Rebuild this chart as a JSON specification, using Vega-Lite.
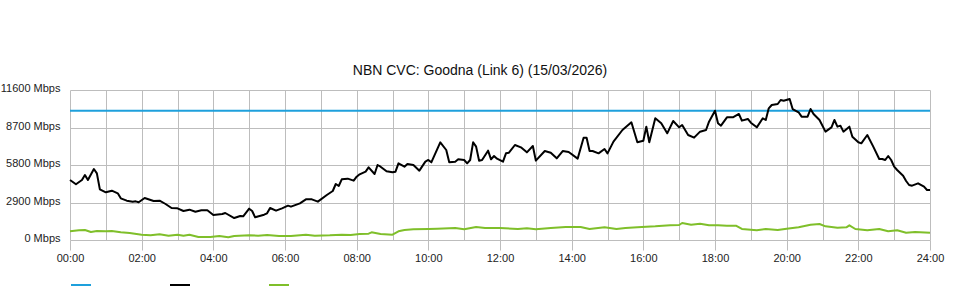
{
  "$schema": "https://vega.github.io/schema/vega-lite/v6.json",
  "width": 860,
  "height": 150,
  "autosize": {"type": "none"},
  "padding": {"left": 70, "top": 90, "right": 30, "bottom": 60},
  "background": "white",
  "title": {"text": "NBN CVC: Goodna (Link 6) (15/03/2026)", "font": "Liberation Sans", "fontSize": 14, "fontWeight": "normal", "color": "#111", "anchor": "middle", "dx": -20, "dy": 21, "offset": 15, "baseline": "alphabetic"},
  "data": {"values": [
    {"series":"Capacity","minute":0,"mbps":10000},{"series":"Capacity","minute":1440,"mbps":10000},
    {"series":"Inbound","minute":0,"mbps":4640},{"series":"Inbound","minute":10,"mbps":4307},{"series":"Inbound","minute":20,"mbps":4640},{"series":"Inbound","minute":25,"mbps":5027},{"series":"Inbound","minute":30,"mbps":4640},{"series":"Inbound","minute":40,"mbps":5490},{"series":"Inbound","minute":45,"mbps":5155},{"series":"Inbound","minute":50,"mbps":3920},{"series":"Inbound","minute":60,"mbps":3688},{"series":"Inbound","minute":70,"mbps":3815},{"series":"Inbound","minute":80,"mbps":3610},{"series":"Inbound","minute":85,"mbps":3224},{"series":"Inbound","minute":95,"mbps":3040},{"series":"Inbound","minute":105,"mbps":2963},{"series":"Inbound","minute":110,"mbps":2990},{"series":"Inbound","minute":115,"mbps":2915},{"series":"Inbound","minute":125,"mbps":3248},{"series":"Inbound","minute":135,"mbps":3093},{"series":"Inbound","minute":140,"mbps":3016},{"series":"Inbound","minute":150,"mbps":3040},{"series":"Inbound","minute":160,"mbps":2784},{"series":"Inbound","minute":170,"mbps":2475},{"series":"Inbound","minute":180,"mbps":2450},{"series":"Inbound","minute":190,"mbps":2243},{"series":"Inbound","minute":200,"mbps":2346},{"series":"Inbound","minute":210,"mbps":2190},{"series":"Inbound","minute":220,"mbps":2294},{"series":"Inbound","minute":230,"mbps":2294},{"series":"Inbound","minute":240,"mbps":1933},{"series":"Inbound","minute":255,"mbps":2010},{"series":"Inbound","minute":260,"mbps":2088},{"series":"Inbound","minute":275,"mbps":1701},{"series":"Inbound","minute":285,"mbps":1856},{"series":"Inbound","minute":290,"mbps":1830},{"series":"Inbound","minute":300,"mbps":2423},{"series":"Inbound","minute":305,"mbps":2243},{"series":"Inbound","minute":310,"mbps":1753},{"series":"Inbound","minute":325,"mbps":1959},{"series":"Inbound","minute":330,"mbps":2062},{"series":"Inbound","minute":335,"mbps":2475},{"series":"Inbound","minute":345,"mbps":2268},{"series":"Inbound","minute":355,"mbps":2450},{"series":"Inbound","minute":365,"mbps":2655},{"series":"Inbound","minute":370,"mbps":2578},{"series":"Inbound","minute":385,"mbps":2836},{"series":"Inbound","minute":395,"mbps":3145},{"series":"Inbound","minute":405,"mbps":3145},{"series":"Inbound","minute":415,"mbps":2965},{"series":"Inbound","minute":430,"mbps":3480},{"series":"Inbound","minute":440,"mbps":3790},{"series":"Inbound","minute":445,"mbps":4331},{"series":"Inbound","minute":450,"mbps":4176},{"series":"Inbound","minute":455,"mbps":4693},{"series":"Inbound","minute":465,"mbps":4744},{"series":"Inbound","minute":475,"mbps":4589},{"series":"Inbound","minute":480,"mbps":4898},{"series":"Inbound","minute":485,"mbps":5078},{"series":"Inbound","minute":495,"mbps":5284},{"series":"Inbound","minute":500,"mbps":5619},{"series":"Inbound","minute":510,"mbps":5104},{"series":"Inbound","minute":515,"mbps":5800},{"series":"Inbound","minute":520,"mbps":5671},{"series":"Inbound","minute":530,"mbps":5310},{"series":"Inbound","minute":540,"mbps":5232},{"series":"Inbound","minute":545,"mbps":5284},{"series":"Inbound","minute":550,"mbps":5929},{"series":"Inbound","minute":560,"mbps":5671},{"series":"Inbound","minute":565,"mbps":5877},{"series":"Inbound","minute":575,"mbps":5800},{"series":"Inbound","minute":585,"mbps":5362},{"series":"Inbound","minute":595,"mbps":6057},{"series":"Inbound","minute":600,"mbps":6187},{"series":"Inbound","minute":605,"mbps":6006},{"series":"Inbound","minute":620,"mbps":7555},{"series":"Inbound","minute":630,"mbps":6960},{"series":"Inbound","minute":635,"mbps":6006},{"series":"Inbound","minute":645,"mbps":6057},{"series":"Inbound","minute":650,"mbps":6238},{"series":"Inbound","minute":660,"mbps":6187},{"series":"Inbound","minute":665,"mbps":5929},{"series":"Inbound","minute":670,"mbps":6187},{"series":"Inbound","minute":675,"mbps":7555},{"series":"Inbound","minute":680,"mbps":7218},{"series":"Inbound","minute":685,"mbps":6135},{"series":"Inbound","minute":690,"mbps":6187},{"series":"Inbound","minute":700,"mbps":6908},{"series":"Inbound","minute":705,"mbps":6238},{"series":"Inbound","minute":710,"mbps":6496},{"series":"Inbound","minute":715,"mbps":6290},{"series":"Inbound","minute":725,"mbps":6057},{"series":"Inbound","minute":730,"mbps":6702},{"series":"Inbound","minute":735,"mbps":6753},{"series":"Inbound","minute":745,"mbps":7347},{"series":"Inbound","minute":755,"mbps":7166},{"series":"Inbound","minute":765,"mbps":6780},{"series":"Inbound","minute":775,"mbps":7269},{"series":"Inbound","minute":780,"mbps":6135},{"series":"Inbound","minute":795,"mbps":6882},{"series":"Inbound","minute":805,"mbps":6753},{"series":"Inbound","minute":815,"mbps":6315},{"series":"Inbound","minute":825,"mbps":6882},{"series":"Inbound","minute":835,"mbps":6805},{"series":"Inbound","minute":850,"mbps":6290},{"series":"Inbound","minute":860,"mbps":7914},{"series":"Inbound","minute":865,"mbps":7914},{"series":"Inbound","minute":870,"mbps":6882},{"series":"Inbound","minute":875,"mbps":6882},{"series":"Inbound","minute":885,"mbps":6702},{"series":"Inbound","minute":895,"mbps":7037},{"series":"Inbound","minute":900,"mbps":6702},{"series":"Inbound","minute":910,"mbps":7605},{"series":"Inbound","minute":925,"mbps":8507},{"series":"Inbound","minute":940,"mbps":9100},{"series":"Inbound","minute":950,"mbps":7555},{"series":"Inbound","minute":960,"mbps":7681},{"series":"Inbound","minute":965,"mbps":8764},{"series":"Inbound","minute":970,"mbps":7555},{"series":"Inbound","minute":980,"mbps":9410},{"series":"Inbound","minute":990,"mbps":9023},{"series":"Inbound","minute":1000,"mbps":8250},{"series":"Inbound","minute":1010,"mbps":9203},{"series":"Inbound","minute":1020,"mbps":8713},{"series":"Inbound","minute":1025,"mbps":8893},{"series":"Inbound","minute":1035,"mbps":8120},{"series":"Inbound","minute":1045,"mbps":7914},{"series":"Inbound","minute":1055,"mbps":8378},{"series":"Inbound","minute":1065,"mbps":8507},{"series":"Inbound","minute":1070,"mbps":9152},{"series":"Inbound","minute":1080,"mbps":10000},{"series":"Inbound","minute":1085,"mbps":9023},{"series":"Inbound","minute":1090,"mbps":8842},{"series":"Inbound","minute":1100,"mbps":9487},{"series":"Inbound","minute":1110,"mbps":9487},{"series":"Inbound","minute":1120,"mbps":9745},{"series":"Inbound","minute":1125,"mbps":9229},{"series":"Inbound","minute":1135,"mbps":9358},{"series":"Inbound","minute":1140,"mbps":9074},{"series":"Inbound","minute":1150,"mbps":8713},{"series":"Inbound","minute":1160,"mbps":9410},{"series":"Inbound","minute":1165,"mbps":9280},{"series":"Inbound","minute":1170,"mbps":10184},{"series":"Inbound","minute":1175,"mbps":10440},{"series":"Inbound","minute":1185,"mbps":10517},{"series":"Inbound","minute":1190,"mbps":10827},{"series":"Inbound","minute":1195,"mbps":10775},{"series":"Inbound","minute":1205,"mbps":10905},{"series":"Inbound","minute":1210,"mbps":10130},{"series":"Inbound","minute":1220,"mbps":9875},{"series":"Inbound","minute":1225,"mbps":9539},{"series":"Inbound","minute":1235,"mbps":9539},{"series":"Inbound","minute":1240,"mbps":10130},{"series":"Inbound","minute":1245,"mbps":9745},{"series":"Inbound","minute":1255,"mbps":9280},{"series":"Inbound","minute":1265,"mbps":8378},{"series":"Inbound","minute":1275,"mbps":8713},{"series":"Inbound","minute":1280,"mbps":9280},{"series":"Inbound","minute":1285,"mbps":8764},{"series":"Inbound","minute":1290,"mbps":8842},{"series":"Inbound","minute":1295,"mbps":8378},{"series":"Inbound","minute":1305,"mbps":8764},{"series":"Inbound","minute":1310,"mbps":7991},{"series":"Inbound","minute":1320,"mbps":7555},{"series":"Inbound","minute":1325,"mbps":7476},{"series":"Inbound","minute":1335,"mbps":8120},{"series":"Inbound","minute":1345,"mbps":7218},{"series":"Inbound","minute":1355,"mbps":6264},{"series":"Inbound","minute":1360,"mbps":6264},{"series":"Inbound","minute":1365,"mbps":6187},{"series":"Inbound","minute":1370,"mbps":6496},{"series":"Inbound","minute":1375,"mbps":6187},{"series":"Inbound","minute":1380,"mbps":5671},{"series":"Inbound","minute":1385,"mbps":5413},{"series":"Inbound","minute":1395,"mbps":4973},{"series":"Inbound","minute":1400,"mbps":4563},{"series":"Inbound","minute":1405,"mbps":4253},{"series":"Inbound","minute":1410,"mbps":4202},{"series":"Inbound","minute":1420,"mbps":4383},{"series":"Inbound","minute":1430,"mbps":4124},{"series":"Inbound","minute":1435,"mbps":3867},{"series":"Inbound","minute":1440,"mbps":3867},
    {"series":"Outbound","minute":0,"mbps":670},{"series":"Outbound","minute":15,"mbps":747},{"series":"Outbound","minute":25,"mbps":773},{"series":"Outbound","minute":35,"mbps":619},{"series":"Outbound","minute":45,"mbps":696},{"series":"Outbound","minute":60,"mbps":670},{"series":"Outbound","minute":70,"mbps":696},{"series":"Outbound","minute":85,"mbps":593},{"series":"Outbound","minute":100,"mbps":541},{"series":"Outbound","minute":120,"mbps":412},{"series":"Outbound","minute":135,"mbps":361},{"series":"Outbound","minute":150,"mbps":438},{"series":"Outbound","minute":165,"mbps":335},{"series":"Outbound","minute":180,"mbps":412},{"series":"Outbound","minute":190,"mbps":335},{"series":"Outbound","minute":200,"mbps":412},{"series":"Outbound","minute":215,"mbps":232},{"series":"Outbound","minute":235,"mbps":232},{"series":"Outbound","minute":250,"mbps":309},{"series":"Outbound","minute":265,"mbps":206},{"series":"Outbound","minute":275,"mbps":309},{"series":"Outbound","minute":300,"mbps":361},{"series":"Outbound","minute":315,"mbps":335},{"series":"Outbound","minute":330,"mbps":387},{"series":"Outbound","minute":350,"mbps":309},{"series":"Outbound","minute":370,"mbps":309},{"series":"Outbound","minute":395,"mbps":412},{"series":"Outbound","minute":410,"mbps":335},{"series":"Outbound","minute":435,"mbps":361},{"series":"Outbound","minute":455,"mbps":412},{"series":"Outbound","minute":470,"mbps":387},{"series":"Outbound","minute":485,"mbps":464},{"series":"Outbound","minute":500,"mbps":490},{"series":"Outbound","minute":505,"mbps":593},{"series":"Outbound","minute":520,"mbps":464},{"series":"Outbound","minute":540,"mbps":412},{"series":"Outbound","minute":550,"mbps":670},{"series":"Outbound","minute":560,"mbps":773},{"series":"Outbound","minute":575,"mbps":825},{"series":"Outbound","minute":600,"mbps":851},{"series":"Outbound","minute":615,"mbps":877},{"series":"Outbound","minute":645,"mbps":928},{"series":"Outbound","minute":660,"mbps":825},{"series":"Outbound","minute":680,"mbps":1005},{"series":"Outbound","minute":695,"mbps":928},{"series":"Outbound","minute":720,"mbps":928},{"series":"Outbound","minute":750,"mbps":851},{"series":"Outbound","minute":765,"mbps":902},{"series":"Outbound","minute":780,"mbps":825},{"series":"Outbound","minute":805,"mbps":928},{"series":"Outbound","minute":830,"mbps":1005},{"series":"Outbound","minute":855,"mbps":1005},{"series":"Outbound","minute":870,"mbps":851},{"series":"Outbound","minute":895,"mbps":980},{"series":"Outbound","minute":915,"mbps":851},{"series":"Outbound","minute":930,"mbps":928},{"series":"Outbound","minute":950,"mbps":980},{"series":"Outbound","minute":965,"mbps":1031},{"series":"Outbound","minute":980,"mbps":1057},{"series":"Outbound","minute":1005,"mbps":1134},{"series":"Outbound","minute":1020,"mbps":1160},{"series":"Outbound","minute":1025,"mbps":1315},{"series":"Outbound","minute":1040,"mbps":1186},{"series":"Outbound","minute":1055,"mbps":1263},{"series":"Outbound","minute":1070,"mbps":1134},{"series":"Outbound","minute":1085,"mbps":1134},{"series":"Outbound","minute":1100,"mbps":1108},{"series":"Outbound","minute":1115,"mbps":1108},{"series":"Outbound","minute":1125,"mbps":851},{"series":"Outbound","minute":1150,"mbps":747},{"series":"Outbound","minute":1165,"mbps":851},{"series":"Outbound","minute":1185,"mbps":773},{"series":"Outbound","minute":1200,"mbps":877},{"series":"Outbound","minute":1220,"mbps":980},{"series":"Outbound","minute":1240,"mbps":1186},{"series":"Outbound","minute":1255,"mbps":1237},{"series":"Outbound","minute":1265,"mbps":1057},{"series":"Outbound","minute":1285,"mbps":954},{"series":"Outbound","minute":1300,"mbps":980},{"series":"Outbound","minute":1305,"mbps":1134},{"series":"Outbound","minute":1315,"mbps":851},{"series":"Outbound","minute":1335,"mbps":747},{"series":"Outbound","minute":1355,"mbps":851},{"series":"Outbound","minute":1370,"mbps":670},{"series":"Outbound","minute":1385,"mbps":747},{"series":"Outbound","minute":1400,"mbps":567},{"series":"Outbound","minute":1415,"mbps":619},{"series":"Outbound","minute":1440,"mbps":567}
  ]},
  "mark": {"type": "line", "strokeJoin": "round"},
  "encoding": {
    "x": {
      "field": "minute", "type": "quantitative",
      "scale": {"domain": [0, 1440], "nice": false, "zero": false},
      "axis": {
        "title": null,
        "values": [0,60,120,180,240,300,360,420,480,540,600,660,720,780,840,900,960,1020,1080,1140,1200,1260,1320,1380,1440],
        "labelExpr": "datum.value % 120 == 0 ? ((datum.value / 60 < 10 ? '0' : '') + (datum.value / 60) + ':00') : ''",
        "labelOverlap": false,
        "labelFlush": false,
        "labelFont": "Liberation Sans",
        "labelFontSize": 11,
        "labelColor": "#222",
        "labelPadding": 2,
        "domain": false,
        "grid": true,
        "gridColor": "#bdbdbd",
        "gridWidth": 1,
        "ticks": true,
        "tickSize": 10,
        "tickColor": "#bdbdbd",
        "tickOpacity": {"condition": {"test": "datum.value % 120 != 0", "value": 0}, "value": 1}
      }
    },
    "y": {
      "field": "mbps", "type": "quantitative",
      "scale": {"domain": [0, 11600], "nice": false},
      "axis": {
        "title": null,
        "values": [0, 2900, 5800, 8700, 11600],
        "labelExpr": "datum.value + ' Mbps'",
        "labelFont": "Liberation Sans",
        "labelFontSize": 11,
        "labelColor": "#222",
        "labelPadding": 10,
        "labelOffset": -1.5,
        "domain": false,
        "ticks": false,
        "grid": true,
        "gridColor": "#bdbdbd",
        "gridWidth": 1
      }
    },
    "color": {
      "field": "series", "type": "nominal",
      "scale": {"domain": ["Capacity", "Inbound", "Outbound"], "range": ["#1ea0dc", "#000000", "#7fbf2a"]},
      "legend": {
        "orient": "bottom",
        "direction": "horizontal",
        "title": null,
        "symbolType": "stroke",
        "symbolSize": 400,
        "symbolStrokeWidth": 2,
        "labelExpr": "''",
        "labelOffset": 0,
        "columnPadding": 71,
        "offset": 11
      }
    },
    "strokeWidth": {
      "field": "series", "type": "nominal",
      "scale": {"domain": ["Capacity", "Inbound", "Outbound"], "range": [2, 2, 2.6]},
      "legend": null
    }
  },
  "config": {"view": {"stroke": null}}
}
